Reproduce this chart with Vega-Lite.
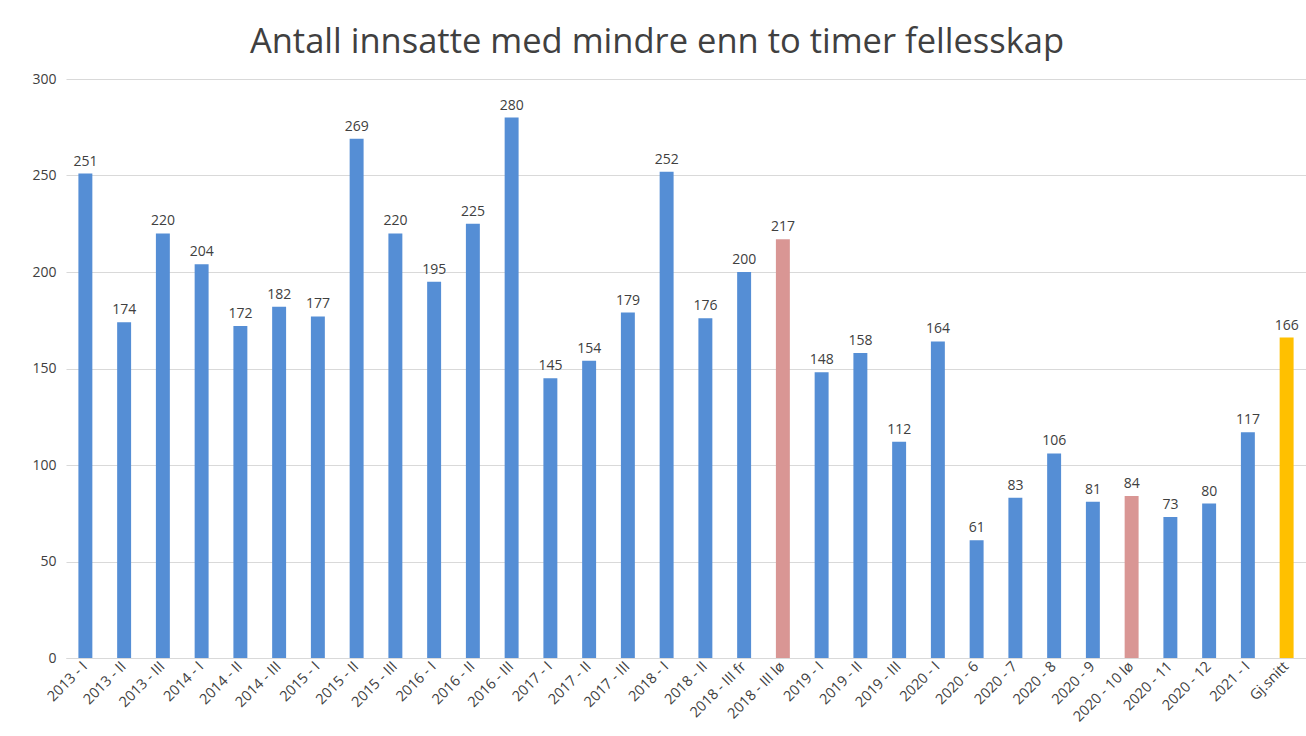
{
  "$schema": "https://vega.github.io/schema/vega-lite/v6.json",
  "autosize": "none",
  "width": 1240,
  "height": 579,
  "padding": {"left": 66, "top": 79, "right": 0, "bottom": 78},
  "background": "white",
  "title": {
    "text": "Antall innsatte med mindre enn to timer fellesskap",
    "font": "Open Sans",
    "fontSize": 34.5,
    "fontWeight": "normal",
    "color": "#404040",
    "anchor": "middle",
    "frame": "group",
    "dx": -29,
    "offset": 12
  },
  "data": {
    "values": [
      {"periode": "2013 - I", "antall": 251, "kategori": "vanlig"},
      {"periode": "2013 - II", "antall": 174, "kategori": "vanlig"},
      {"periode": "2013 - III", "antall": 220, "kategori": "vanlig"},
      {"periode": "2014 - I", "antall": 204, "kategori": "vanlig"},
      {"periode": "2014 - II", "antall": 172, "kategori": "vanlig"},
      {"periode": "2014 - III", "antall": 182, "kategori": "vanlig"},
      {"periode": "2015 - I", "antall": 177, "kategori": "vanlig"},
      {"periode": "2015 - II", "antall": 269, "kategori": "vanlig"},
      {"periode": "2015 - III", "antall": 220, "kategori": "vanlig"},
      {"periode": "2016 - I", "antall": 195, "kategori": "vanlig"},
      {"periode": "2016 - II", "antall": 225, "kategori": "vanlig"},
      {"periode": "2016 - III", "antall": 280, "kategori": "vanlig"},
      {"periode": "2017 - I", "antall": 145, "kategori": "vanlig"},
      {"periode": "2017 - II", "antall": 154, "kategori": "vanlig"},
      {"periode": "2017 - III", "antall": 179, "kategori": "vanlig"},
      {"periode": "2018 - I", "antall": 252, "kategori": "vanlig"},
      {"periode": "2018 - II", "antall": 176, "kategori": "vanlig"},
      {"periode": "2018 - III fr", "antall": 200, "kategori": "vanlig"},
      {"periode": "2018 - III lø", "antall": 217, "kategori": "lørdag"},
      {"periode": "2019 - I", "antall": 148, "kategori": "vanlig"},
      {"periode": "2019 - II", "antall": 158, "kategori": "vanlig"},
      {"periode": "2019 - III", "antall": 112, "kategori": "vanlig"},
      {"periode": "2020 - I", "antall": 164, "kategori": "vanlig"},
      {"periode": "2020 - 6", "antall": 61, "kategori": "vanlig"},
      {"periode": "2020 - 7", "antall": 83, "kategori": "vanlig"},
      {"periode": "2020 - 8", "antall": 106, "kategori": "vanlig"},
      {"periode": "2020 - 9", "antall": 81, "kategori": "vanlig"},
      {"periode": "2020 - 10 lø", "antall": 84, "kategori": "lørdag"},
      {"periode": "2020 - 11", "antall": 73, "kategori": "vanlig"},
      {"periode": "2020 - 12", "antall": 80, "kategori": "vanlig"},
      {"periode": "2021 - I", "antall": 117, "kategori": "vanlig"},
      {"periode": "Gj.snitt", "antall": 166, "kategori": "snitt"}
    ]
  },
  "encoding": {
    "x": {
      "field": "periode",
      "type": "nominal",
      "sort": null,
      "title": null,
      "scale": {"paddingInner": 0.64, "paddingOuter": 0.32},
      "axis": {
        "labelAngle": -45,
        "labelAlign": "right",
        "labelBaseline": "middle",
        "labelFont": "Open Sans",
        "labelFontSize": 14.5,
        "labelColor": "#404040",
        "labelPadding": 6,
        "ticks": false,
        "domainColor": "#D9D9D9",
        "domainWidth": 1
      }
    },
    "y": {
      "field": "antall",
      "type": "quantitative",
      "title": null,
      "scale": {"domain": [0, 300]},
      "axis": {
        "values": [0, 50, 100, 150, 200, 250, 300],
        "labelFont": "Open Sans",
        "labelFontSize": 14,
        "labelColor": "#404040",
        "labelPadding": 10,
        "ticks": false,
        "domain": false,
        "gridColor": "#D9D9D9",
        "gridWidth": 1
      }
    }
  },
  "layer": [
    {
      "mark": {"type": "bar"},
      "encoding": {
        "color": {
          "field": "kategori",
          "type": "nominal",
          "scale": {"domain": ["vanlig", "lørdag", "snitt"], "range": ["#558ED5", "#D99694", "#FFC000"]},
          "legend": null
        }
      }
    },
    {
      "mark": {"type": "text", "baseline": "bottom", "dy": -5, "font": "Open Sans", "fontSize": 14, "color": "#404040"},
      "encoding": {"text": {"field": "antall", "type": "quantitative"}}
    }
  ],
  "config": {"view": {"stroke": null}}
}
